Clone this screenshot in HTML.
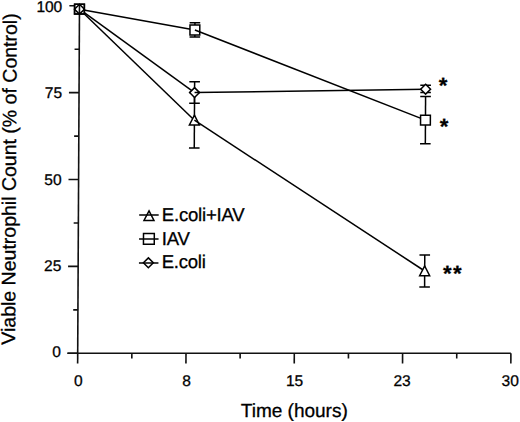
<!DOCTYPE html>
<html><head><meta charset="utf-8"><style>
html,body{margin:0;padding:0;background:#fff;}
#c{position:relative;width:520px;height:422px;overflow:hidden;background:#fff;}
#s{position:absolute;left:0;top:0;width:520px;height:422px;transform-origin:0 353.3px;transform:skewX(-0.2945deg);}
svg{position:absolute;left:0;top:0;}
</style></head><body><div id="c"><div id="s">
<svg width="520" height="422" viewBox="0 0 520 422">
<line x1="77.70" y1="5.74" x2="77.70" y2="363.50" stroke="#111" stroke-width="1.6"/>
<line x1="67.30" y1="353.30" x2="510.90" y2="353.30" stroke="#111" stroke-width="1.6"/>
<line x1="67.60" y1="5.74" x2="77.70" y2="5.74" stroke="#111" stroke-width="1.6"/>
<line x1="67.60" y1="92.63" x2="77.70" y2="92.63" stroke="#111" stroke-width="1.6"/>
<line x1="67.60" y1="179.52" x2="77.70" y2="179.52" stroke="#111" stroke-width="1.6"/>
<line x1="67.60" y1="266.41" x2="77.70" y2="266.41" stroke="#111" stroke-width="1.6"/>
<line x1="67.60" y1="353.30" x2="77.70" y2="353.30" stroke="#111" stroke-width="1.6"/>
<line x1="73.00" y1="49.19" x2="77.70" y2="49.19" stroke="#111" stroke-width="1.6"/>
<line x1="73.00" y1="136.08" x2="77.70" y2="136.08" stroke="#111" stroke-width="1.6"/>
<line x1="73.00" y1="222.97" x2="77.70" y2="222.97" stroke="#111" stroke-width="1.6"/>
<line x1="73.00" y1="309.86" x2="77.70" y2="309.86" stroke="#111" stroke-width="1.6"/>
<line x1="186.00" y1="353.30" x2="186.00" y2="363.50" stroke="#111" stroke-width="1.6"/>
<line x1="294.30" y1="353.30" x2="294.30" y2="363.50" stroke="#111" stroke-width="1.6"/>
<line x1="402.60" y1="353.30" x2="402.60" y2="363.50" stroke="#111" stroke-width="1.6"/>
<line x1="510.90" y1="353.30" x2="510.90" y2="363.50" stroke="#111" stroke-width="1.6"/>
<line x1="131.85" y1="353.30" x2="131.85" y2="358.40" stroke="#111" stroke-width="1.6"/>
<line x1="240.15" y1="353.30" x2="240.15" y2="358.40" stroke="#111" stroke-width="1.6"/>
<line x1="348.45" y1="353.30" x2="348.45" y2="358.40" stroke="#111" stroke-width="1.6"/>
<line x1="456.75" y1="353.30" x2="456.75" y2="358.40" stroke="#111" stroke-width="1.6"/>
<line x1="193.22" y1="92.40" x2="193.22" y2="148.00" stroke="#000" stroke-width="1.5"/>
<line x1="187.92" y1="92.40" x2="198.52" y2="92.40" stroke="#000" stroke-width="1.5"/>
<line x1="187.92" y1="148.00" x2="198.52" y2="148.00" stroke="#000" stroke-width="1.5"/>
<line x1="424.26" y1="255.00" x2="424.26" y2="286.90" stroke="#000" stroke-width="1.5"/>
<line x1="418.96" y1="255.00" x2="429.56" y2="255.00" stroke="#000" stroke-width="1.5"/>
<line x1="418.96" y1="286.90" x2="429.56" y2="286.90" stroke="#000" stroke-width="1.5"/>
<line x1="193.22" y1="81.80" x2="193.22" y2="103.20" stroke="#000" stroke-width="1.5"/>
<line x1="187.92" y1="81.80" x2="198.52" y2="81.80" stroke="#000" stroke-width="1.5"/>
<line x1="187.92" y1="103.20" x2="198.52" y2="103.20" stroke="#000" stroke-width="1.5"/>
<line x1="424.26" y1="85.20" x2="424.26" y2="92.60" stroke="#000" stroke-width="1.5"/>
<line x1="418.96" y1="85.20" x2="429.56" y2="85.20" stroke="#000" stroke-width="1.5"/>
<line x1="418.96" y1="92.60" x2="429.56" y2="92.60" stroke="#000" stroke-width="1.5"/>
<line x1="193.22" y1="22.80" x2="193.22" y2="37.10" stroke="#000" stroke-width="1.5"/>
<line x1="187.92" y1="22.80" x2="198.52" y2="22.80" stroke="#000" stroke-width="1.5"/>
<line x1="187.92" y1="37.10" x2="198.52" y2="37.10" stroke="#000" stroke-width="1.5"/>
<line x1="424.26" y1="96.40" x2="424.26" y2="143.80" stroke="#000" stroke-width="1.5"/>
<line x1="418.96" y1="96.40" x2="429.56" y2="96.40" stroke="#000" stroke-width="1.5"/>
<line x1="418.96" y1="143.80" x2="429.56" y2="143.80" stroke="#000" stroke-width="1.5"/>
<line x1="77.70" y1="9.20" x2="193.22" y2="120.20" stroke="#000" stroke-width="1.5"/>
<line x1="77.70" y1="9.20" x2="193.22" y2="92.60" stroke="#000" stroke-width="1.5"/>
<line x1="77.70" y1="9.20" x2="193.22" y2="30.00" stroke="#000" stroke-width="1.5"/>
<rect x="72.80" y="4.30" width="9.80" height="9.80" fill="#fff" stroke="#000" stroke-width="1.5"/>
<line x1="77.70" y1="4.30" x2="77.70" y2="14.10" stroke="#111" stroke-width="1.6"/>
<polygon points="77.70,4.25 82.65,9.20 77.70,14.15 72.75,9.20" fill="none" stroke="#000" stroke-width="1.5"/>
<rect x="72.80" y="4.30" width="9.80" height="9.80" fill="none" stroke="#000" stroke-width="1.5"/>
<polygon points="193.22,115.20 198.22,124.90 188.22,124.90" fill="#fff" stroke="#000" stroke-width="1.5"/>
<polygon points="193.22,87.65 198.17,92.60 193.22,97.55 188.27,92.60" fill="#fff" stroke="#000" stroke-width="1.5"/>
<rect x="188.32" y="25.10" width="9.80" height="9.80" fill="#fff" stroke="#000" stroke-width="1.5"/>
<line x1="193.22" y1="120.20" x2="424.26" y2="271.00" stroke="#000" stroke-width="1.5"/>
<line x1="193.22" y1="92.60" x2="424.26" y2="89.20" stroke="#000" stroke-width="1.5"/>
<line x1="193.22" y1="30.00" x2="424.26" y2="120.10" stroke="#000" stroke-width="1.5"/>
<polygon points="424.26,266.00 429.26,275.70 419.26,275.70" fill="#fff" stroke="#000" stroke-width="1.5"/>
<polygon points="424.26,84.25 429.21,89.20 424.26,94.15 419.31,89.20" fill="#fff" stroke="#000" stroke-width="1.5"/>
<rect x="419.36" y="115.20" width="9.80" height="9.80" fill="#fff" stroke="#000" stroke-width="1.5"/>
<line x1="138.50" y1="215.10" x2="158.00" y2="215.10" stroke="#000" stroke-width="1.5"/>
<polygon points="148.30,210.80 153.30,220.50 143.30,220.50" fill="none" stroke="#000" stroke-width="1.5"/>
<line x1="138.50" y1="239.10" x2="158.00" y2="239.10" stroke="#000" stroke-width="1.5"/>
<rect x="142.90" y="233.50" width="10.80" height="10.80" fill="none" stroke="#000" stroke-width="1.5"/>
<line x1="138.50" y1="262.90" x2="158.00" y2="262.90" stroke="#000" stroke-width="1.5"/>
<polygon points="147.90,257.85 152.85,262.80 147.90,267.75 142.95,262.80" fill="none" stroke="#000" stroke-width="1.5"/>
</svg>
<div style='font-family:"Liberation Sans",sans-serif;position:absolute;white-space:nowrap;line-height:1;color:#000;-webkit-text-stroke:0.3px #000;right:459.50px;top:-1.41px;font-size:15.5px;text-align:right'>100</div>
<div style='font-family:"Liberation Sans",sans-serif;position:absolute;white-space:nowrap;line-height:1;color:#000;-webkit-text-stroke:0.3px #000;right:459.20px;top:84.93px;font-size:15.5px;text-align:right'>75</div>
<div style='font-family:"Liberation Sans",sans-serif;position:absolute;white-space:nowrap;line-height:1;color:#000;-webkit-text-stroke:0.3px #000;right:459.25px;top:172.02px;font-size:15.5px;text-align:right'>50</div>
<div style='font-family:"Liberation Sans",sans-serif;position:absolute;white-space:nowrap;line-height:1;color:#000;-webkit-text-stroke:0.3px #000;right:459.10px;top:257.66px;font-size:15.5px;text-align:right'>25</div>
<div style='font-family:"Liberation Sans",sans-serif;position:absolute;white-space:nowrap;line-height:1;color:#000;-webkit-text-stroke:0.3px #000;right:459.20px;top:343.90px;font-size:15.5px;text-align:right'>0</div>
<div style='font-family:"Liberation Sans",sans-serif;position:absolute;white-space:nowrap;line-height:1;color:#000;-webkit-text-stroke:0.3px #000;left:48.40px;width:60px;text-align:center;top:373.15px;font-size:15.5px'>0</div>
<div style='font-family:"Liberation Sans",sans-serif;position:absolute;white-space:nowrap;line-height:1;color:#000;-webkit-text-stroke:0.3px #000;left:156.70px;width:60px;text-align:center;top:373.15px;font-size:15.5px'>8</div>
<div style='font-family:"Liberation Sans",sans-serif;position:absolute;white-space:nowrap;line-height:1;color:#000;-webkit-text-stroke:0.3px #000;left:264.80px;width:60px;text-align:center;top:373.15px;font-size:15.5px'>15</div>
<div style='font-family:"Liberation Sans",sans-serif;position:absolute;white-space:nowrap;line-height:1;color:#000;-webkit-text-stroke:0.3px #000;left:372.30px;width:60px;text-align:center;top:373.15px;font-size:15.5px'>23</div>
<div style='font-family:"Liberation Sans",sans-serif;position:absolute;white-space:nowrap;line-height:1;color:#000;-webkit-text-stroke:0.3px #000;left:480.35px;width:60px;text-align:center;top:373.15px;font-size:15.5px'>30</div>
<div style='font-family:"Liberation Sans",sans-serif;position:absolute;white-space:nowrap;line-height:1;color:#000;-webkit-text-stroke:0.3px #000;left:194.6px;width:200px;text-align:center;top:401px;font-size:19px'>Time (hours)</div>
<div style='font-family:"Liberation Sans",sans-serif;position:absolute;white-space:nowrap;line-height:1;color:#000;-webkit-text-stroke:0.3px #000;left:-0.9px;top:178.95px;font-size:19.5px;transform-origin:0 0;transform:rotate(-90deg) translate(-50%,0)'>Viable Neutrophil Count (% of Control)</div>
<div style='font-family:"Liberation Sans",sans-serif;position:absolute;white-space:nowrap;line-height:1;color:#000;-webkit-text-stroke:0.3px #000;left:161.20px;top:205.95px;font-size:18.5px;letter-spacing:-0.2px'>E.coli+IAV</div>
<div style='font-family:"Liberation Sans",sans-serif;position:absolute;white-space:nowrap;line-height:1;color:#000;-webkit-text-stroke:0.3px #000;left:161.20px;top:229.50px;font-size:18.5px;letter-spacing:-0.2px'>IAV</div>
<div style='font-family:"Liberation Sans",sans-serif;position:absolute;white-space:nowrap;line-height:1;color:#000;-webkit-text-stroke:0.3px #000;left:161.20px;top:253.20px;font-size:18.5px;letter-spacing:-0.2px'>E.coli</div>
<div style='font-family:"Liberation Sans",sans-serif;position:absolute;white-space:nowrap;line-height:1;color:#000;-webkit-text-stroke:0.3px #000;left:437.40px;top:74.80px;font-size:22px;font-weight:bold'>*</div>
<div style='font-family:"Liberation Sans",sans-serif;position:absolute;white-space:nowrap;line-height:1;color:#000;-webkit-text-stroke:0.3px #000;left:438.50px;top:115.50px;font-size:22px;font-weight:bold'>*</div>
<div style='font-family:"Liberation Sans",sans-serif;position:absolute;white-space:nowrap;line-height:1;color:#000;-webkit-text-stroke:0.3px #000;left:442.60px;top:262.50px;font-size:22px;font-weight:bold;letter-spacing:1.4px'>**</div>
</div></div></body></html>
